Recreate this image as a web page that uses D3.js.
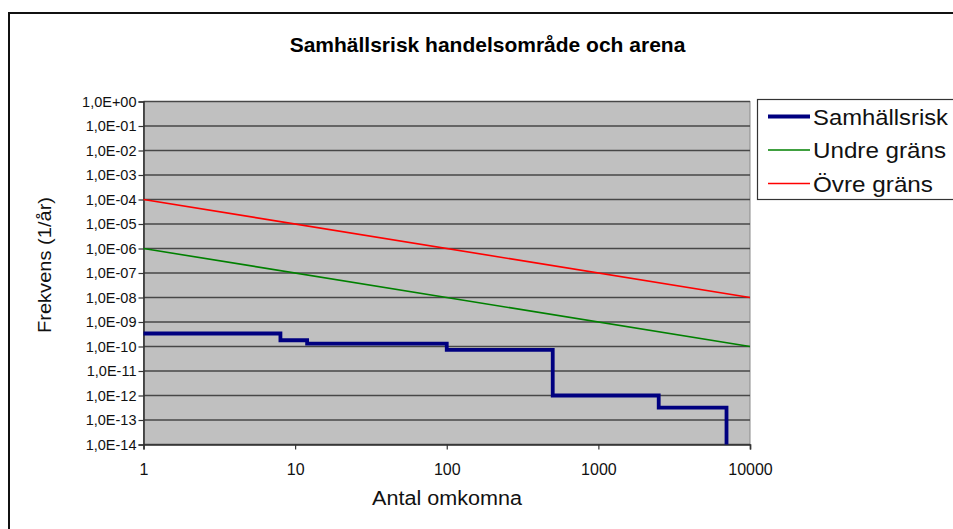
<!DOCTYPE html>
<html>
<head>
<meta charset="utf-8">
<script src="https://cdn.jsdelivr.net/npm/d3@7/dist/d3.min.js"></script>
<style>
  html, body { margin: 0; padding: 0; background: #fff; }
  svg { display: block; font-family: "Liberation Sans", Arial, sans-serif; }
</style>
</head>
<body>
<svg id="chart" width="953" height="529"></svg>
<script>
// ---- Data ----
const title = "Samhällsrisk handelsområde och arena";
const xTitle = "Antal omkomna";
const yTitle = "Frekvens (1/år)";
const xTicks = [1, 10, 100, 1000, 10000];
const xTickLabels = ["1", "10", "100", "1000", "10000"];
const yTickExps = [0, -1, -2, -3, -4, -5, -6, -7, -8, -9, -10, -11, -12, -13, -14];

// Samhällsrisk (step curve): number of fatalities N and frequency F(N)
const riskN = [1, 8, 12, 100, 500, 2500, 7000];
const riskF = [3.4e-10, 1.8e-10, 1.3e-10, 7.3e-11, 1.0e-12, 3.2e-13, 1.0e-14];

// Criteria lines
const lowerN = [1, 10000];
const lowerF = [1e-6, 1e-10];
const upperN = [1, 10000];
const upperF = [1e-4, 1e-8];

const seriesNames = ["Samhällsrisk", "Undre gräns", "Övre gräns"];
const seriesColors = ["#000080", "#008000", "#ff0000"];

// ---- Layout ----
const svg = d3.select("#chart");
const plot = { left: 143.5, right: 750, top: 101.5, bottom: 444.5 };

const x = d3.scaleLog().domain([1, 10000]).range([plot.left, plot.right]);
const y = d3.scaleLog().domain([1e-14, 1]).range([plot.bottom, plot.top]);

// outer frame
svg.append("rect")
  .attr("x", 9).attr("y", 13).attr("width", 1000).attr("height", 600)
  .attr("fill", "#fff").attr("stroke", "#111").attr("stroke-width", 2);

// title
svg.append("text")
  .attr("x", 487.5).attr("y", 51.5)
  .attr("text-anchor", "middle")
  .attr("font-size", 21).attr("font-weight", "bold").attr("fill", "#000")
  .text(title);

// plot background
svg.append("rect")
  .attr("x", plot.left).attr("y", plot.top)
  .attr("width", plot.right - plot.left).attr("height", plot.bottom - plot.top)
  .attr("fill", "#c0c0c0").attr("stroke", "#8a8a8a").attr("stroke-width", 1);

// horizontal gridlines
const yVals = yTickExps.map(e => Math.pow(10, e));
svg.append("g").selectAll("line").data(yVals).join("line")
  .attr("x1", plot.left).attr("x2", plot.right)
  .attr("y1", d => y(d)).attr("y2", d => y(d))
  .attr("stroke", "#474747").attr("stroke-width", 1.4);

// Y axis
const yAxis = d3.axisLeft(y)
  .tickValues(yVals)
  .tickSize(5)
  .tickPadding(2)
  .tickFormat(d => {
    const e = Math.round(Math.log10(d));
    const s = Math.abs(e).toString().padStart(2, "0");
    return "1,0E" + (e >= 0 ? "+" : "-") + s;
  });
const gy = svg.append("g").attr("transform", `translate(${plot.left},0)`).call(yAxis);
gy.select(".domain").attr("stroke", "#333").attr("stroke-width", 1.6);
gy.selectAll(".tick line").attr("stroke", "#333").attr("stroke-width", 1.2);
gy.selectAll(".tick text").attr("font-size", 14.5).attr("fill", "#111")
  .attr("font-family", "Liberation Sans, Arial, sans-serif");

// X axis
const xAxis = d3.axisBottom(x)
  .tickValues(xTicks)
  .tickSize(5)
  .tickPadding(14)
  .tickFormat((d, i) => xTickLabels[i]);
const gx = svg.append("g").attr("transform", `translate(0,${plot.bottom})`).call(xAxis);
gx.select(".domain").attr("stroke", "#333").attr("stroke-width", 1.6);
gx.selectAll(".tick line").attr("stroke", "#333").attr("stroke-width", 1.2);
gx.selectAll(".tick text").attr("font-size", 16).attr("fill", "#111")
  .attr("font-family", "Liberation Sans, Arial, sans-serif");

// axis titles
svg.append("text")
  .attr("x", 447).attr("y", 505)
  .attr("text-anchor", "middle").attr("font-size", 20).attr("fill", "#111")
  .attr("textLength", 150).attr("lengthAdjust", "spacingAndGlyphs")
  .text(xTitle);
svg.append("text")
  .attr("transform", "translate(51,265) rotate(-90)")
  .attr("text-anchor", "middle").attr("font-size", 19).attr("fill", "#111")
  .attr("textLength", 136).attr("lengthAdjust", "spacingAndGlyphs")
  .text(yTitle);

// lines
const lineGen = d3.line().x(d => x(d[0])).y(d => y(d[1]));

svg.append("path")
  .datum(upperN.map((n, i) => [n, upperF[i]]))
  .attr("d", lineGen).attr("fill", "none")
  .attr("stroke", seriesColors[2]).attr("stroke-width", 1.6);

svg.append("path")
  .datum(lowerN.map((n, i) => [n, lowerF[i]]))
  .attr("d", lineGen).attr("fill", "none")
  .attr("stroke", seriesColors[1]).attr("stroke-width", 1.6);

// step curve
const stepPts = riskN.map((n, i) => [n, riskF[i]]);
svg.append("path")
  .datum(stepPts)
  .attr("d", d3.line().x(d => x(d[0])).y(d => y(d[1])).curve(d3.curveStepAfter))
  .attr("fill", "none")
  .attr("stroke", seriesColors[0]).attr("stroke-width", 3.8);

// legend
const lg = svg.append("g");
lg.append("rect")
  .attr("x", 757.5).attr("y", 99.5).attr("width", 240).attr("height", 100)
  .attr("fill", "#fff").attr("stroke", "#333").attr("stroke-width", 1.2);
const legLineY = [116.5, 150, 183.5];
const legTextW = [135, 133, 120];
seriesNames.forEach((name, i) => {
  lg.append("line")
    .attr("x1", 768).attr("x2", 810)
    .attr("y1", legLineY[i]).attr("y2", legLineY[i])
    .attr("stroke", seriesColors[i]).attr("stroke-width", i === 0 ? 3.8 : 1.6);
  lg.append("text")
    .attr("x", 813).attr("y", legLineY[i] + 8)
    .attr("font-size", 22).attr("fill", "#111")
    .attr("textLength", legTextW[i]).attr("lengthAdjust", "spacingAndGlyphs")
    .text(name);
});
</script>
</body>
</html>
